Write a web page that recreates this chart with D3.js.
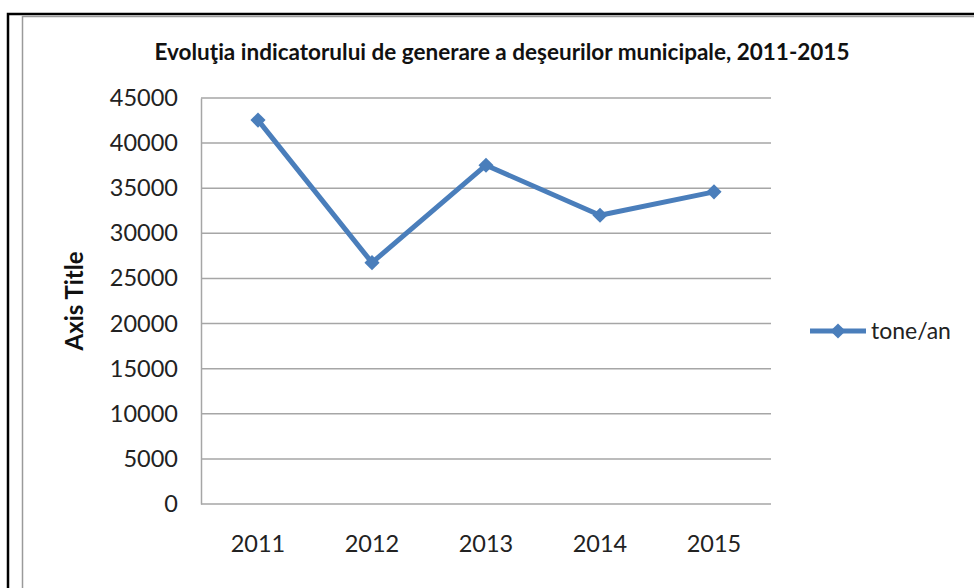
<!DOCTYPE html>
<html lang="ro">
    <head>
        <meta charset="utf-8">
        <title>Evoluţia indicatorului de generare a deşeurilor municipale</title>
        <script type="text/javascript" src="https://d3js.org/d3.v7.min.js"></script>
        <style type="text/css">
            body { margin: 0; background: white; }
            svg { display: block; }
            svg text { font-family: Lato, "Open Sans", sans-serif; }
        </style>
    </head>
    <body>
        <script type="text/javascript">

        // data
        const years = ["2011", "2012", "2013", "2014", "2015"];
        const tonesPerYear = [42550, 26750, 37550, 32000, 34600];
        const yTicks = [0, 5000, 10000, 15000, 20000, 25000, 30000, 35000, 40000, 45000];
        const seriesName = "tone/an";

        const width = 974;
        const height = 588;
        const plot = {left: 201, right: 771, top: 98, bottom: 504};
        const blue = "#4a7ebb";

        const svg = d3.select("body")
                    .append("svg")
                    .attr("width", width)
                    .attr("height", height);

        // outer frame (black) + inner frame (gray)
        svg.append("path")
            .attr("d", "M8,588 L8,14 L974,14")
            .attr("fill", "none")
            .attr("stroke", "black")
            .attr("stroke-width", 2.5);
        svg.append("path")
            .attr("d", "M22.5,588 L22.5,16.5 L974,16.5")
            .attr("fill", "none")
            .attr("stroke", "#9a9a9a")
            .attr("stroke-width", 1.5);

        const xScale = d3.scaleBand()
                        .domain(years)
                        .range([plot.left, plot.right]);

        const yScale = d3.scaleLinear()
                        .domain([0, 45000])
                        .range([plot.bottom, plot.top]);

        // gridlines
        svg.append("g")
            .selectAll("line")
            .data(yTicks)
            .enter()
            .append("line")
            .attr("x1", plot.left)
            .attr("x2", plot.right)
            .attr("y1", d => yScale(d))
            .attr("y2", d => yScale(d))
            .attr("stroke", "#a6a6a6")
            .attr("stroke-width", 1.5);

        // left axis
        const leftAxis = d3.axisLeft(yScale)
                        .tickValues(yTicks)
                        .tickFormat(d3.format("d"))
                        .tickSize(0)
                        .tickPadding(23);
        const gy = svg.append("g")
            .attr("transform", "translate(" + plot.left + ",0)")
            .attr("font-family", null)
            .call(leftAxis);
        gy.attr("font-family", null).attr("font-size", null);
        gy.select(".domain").attr("stroke", "#a6a6a6").attr("stroke-width", 1.5);
        gy.selectAll("text")
            .style("font-size", "23.5px")
            .attr("fill", "#222");

        // bottom axis (labels only)
        const bottomAxis = d3.axisBottom(xScale).tickSize(0).tickPadding(31);
        const gx = svg.append("g")
            .attr("transform", "translate(0," + plot.bottom + ")")
            .call(bottomAxis);
        gx.attr("font-family", null).attr("font-size", null);
        gx.select(".domain").remove();
        gx.selectAll("text")
            .style("font-size", "23.5px")
            .attr("fill", "#222");

        const cx = d => xScale(d) + xScale.bandwidth() / 2;
        const points = years.map((y, i) => ({year: y, value: tonesPerYear[i]}));

        // line
        svg.append("path")
            .datum(points)
            .attr("fill", "none")
            .attr("stroke", blue)
            .attr("stroke-width", 5)
            .attr("stroke-linejoin", "round")
            .attr("d", d3.line().x(d => cx(d.year)).y(d => yScale(d.value)));

        // diamond markers
        const diamond = d3.symbol().type(d3.symbolSquare).size(115);
        svg.selectAll(".marker")
            .data(points)
            .enter()
            .append("path")
            .attr("class", "marker")
            .attr("d", diamond)
            .attr("transform", d => "translate(" + cx(d.year) + "," + yScale(d.value) + ") rotate(45)")
            .attr("fill", blue);

        // title
        svg.append("text")
            .attr("x", 502)
            .attr("y", 60)
            .attr("text-anchor", "middle")
            .style("font-size", "22.5px")
            .style("font-weight", "bold")
            .attr("fill", "#111")
            .text("Evoluţia indicatorului de generare a deşeurilor municipale, 2011-2015");

        // y axis title
        svg.append("text")
            .attr("transform", "translate(83,301) rotate(-90)")
            .attr("text-anchor", "middle")
            .style("font-size", "24px")
            .style("font-weight", "bold")
            .attr("fill", "#111")
            .text("Axis Title");

        // legend
        const lg = svg.append("g").attr("transform", "translate(810,331)");
        lg.append("line")
            .attr("x1", 0).attr("x2", 56)
            .attr("stroke", blue)
            .attr("stroke-width", 5);
        lg.append("path")
            .attr("d", diamond)
            .attr("transform", "translate(28,0) rotate(45)")
            .attr("fill", blue);
        lg.append("text")
            .attr("x", 61)
            .attr("dy", "0.35em")
            .style("font-size", "23px")
            .attr("fill", "#222")
            .text(seriesName);

        </script>
    </body>
</html>
